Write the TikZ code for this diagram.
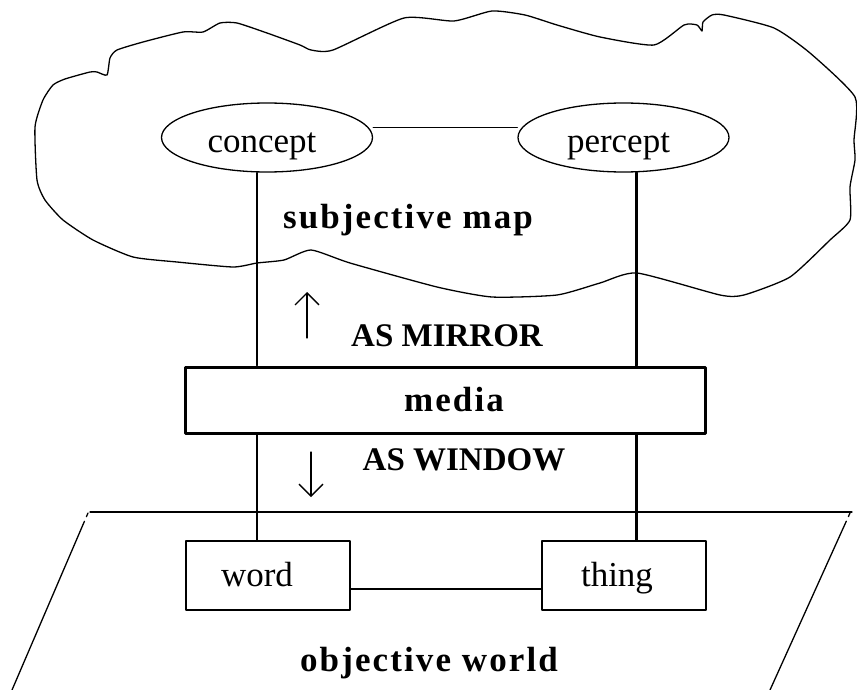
\documentclass[tikz,border=0pt]{standalone}
\usepackage{fontspec}
\setmainfont{Liberation Serif}
\newfontfamily\spacedfont[LetterSpace=6]{Liberation Serif}
\usetikzlibrary{shapes.geometric,arrows.meta}
\begin{document}
\begin{tikzpicture}[x=1pt, y=-1pt, line join=round, line cap=round, >={Straight Barb[length=12pt,width=24pt]},
	every node/.style={inner sep=0pt},
	oval/.style={draw, ellipse, line width=1.3pt, minimum width=211pt, minimum height=69pt, text height=31pt, text depth=0pt, font=\fontsize{35}{40}\selectfont},
	box/.style={draw, rectangle, line width=1.3pt, minimum width=164pt, minimum height=69pt, text height=25pt, text depth=4pt, font=\fontsize{35}{40}\selectfont},
	big/.style={font=\fontsize{33}{38}\selectfont\bfseries},
	wide/.style={font=\fontsize{35}{40}\selectfont\spacedfont\bfseries}]
	\def\thin{1.3pt} % net manh
	\def\thick{3pt} % net dam
	\useasboundingbox (0,0) rectangle (857,690);
	% dam may
	\draw[line width=\thin] plot[smooth cycle, tension=0.35] coordinates {(35,127) (43,100) (53,85) (65,79) (90,72) (97,72) (107,75) (110,58) (117,50) (143,42) (183,32) (203,32) (220,23) (237,23) (267,33) (300,45) (311,50) (333,50) (404,18) (454,21) (492,11) (525,15) (557,25) (600,37) (654,45) (684,25) (697,25) (702,31) (703,22) (712,15) (724,15) (774,28) (810,53) (855,97) (854,140) (855,160) (850,187) (850,220) (830,240) (790,277) (744,295) (720,295) (637,273) (600,283) (557,295) (492,297) (437,287) (350,263) (311,250) (284,260) (257,263) (233,267) (177,262) (133,257) (93,240) (63,220) (45,200) (37,180)};
	% mat phang
	\draw[line width=\thin] (90,512)--(852,512);
	\draw[line width=\thin, dash pattern=on 4pt off 5pt on 400pt] (88,513)--(12,690);
	\draw[line width=\thin, dash pattern=on 4pt off 5pt on 400pt] (850,513)--(770,690);
	\node[oval] (concept) at (267,137.5) {concept\kern10pt};
	\node[oval] (percept) at (623.5,137.5) {percept\kern10pt};
	\node[draw, line width=\thick, minimum width=520pt, minimum height=66pt, wide] (media) at (445,400) {\kern18pt media};
	\node[box] (word) at (268,575.5) {word\kern22pt};
	\node[box] (thing) at (624,575.5) {thing\kern14pt};
	\node[wide] (map) at (408,220) {subjective map};
	\node[big] (mirror) at (447,336) {AS MIRROR};
	\node[big] (window) at (464,460) {AS WINDOW};
	\node[wide] (world) at (429,663) {objective world};
	\coordinate (cl) at (257,0);
	\coordinate (pl) at (636,0);
	\draw[line width=\thin] ([yshift=10pt]concept.east)--([yshift=10pt]percept.west);
	\draw[line width=\thin] ([yshift=-13.5pt]word.east)--([yshift=-13.5pt]thing.west);
	\draw[line width=\thin] (concept.south -| cl)--(media.north -| cl);
	\draw[line width=\thin] (media.south -| cl)--(word.north -| cl);
	\draw[line width=\thick] (percept.south -| pl)--(media.north -| pl);
	\draw[line width=\thick] (media.south -| pl)--(thing.north -| pl);
	\coordinate (upA) at (307,338);
	\coordinate (upB) at (307,292);
	\coordinate (dnA) at (311,452);
	\coordinate (dnB) at (311,497);
	\draw[->, line width=\thin] (upA)--(upB);
	\draw[->, line width=\thin] (dnA)--(dnB);
\end{tikzpicture}
\end{document}
